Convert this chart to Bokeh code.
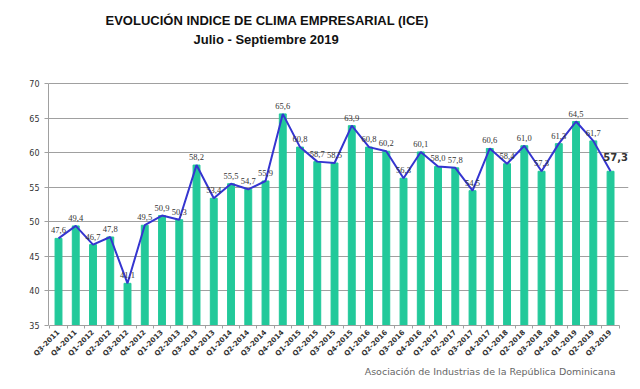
from bokeh.plotting import figure
from bokeh.models import ColumnDataSource, Range1d, FixedTicker, Title, LabelSet, Label
from bokeh.embed import file_html
from bokeh.resources import INLINE
import math

quarters = ["Q3-2011", "Q4-2011", "Q1-2012", "Q2-2012", "Q3-2012", "Q4-2012",
            "Q1-2013", "Q2-2013", "Q3-2013", "Q4-2013", "Q1-2014", "Q2-2014",
            "Q3-2014", "Q4-2014", "Q1-2015", "Q2-2015", "Q3-2015", "Q4-2015",
            "Q1-2016", "Q2-2016", "Q3-2016", "Q4-2016", "Q1-2017", "Q2-2017",
            "Q3-2017", "Q4-2017", "Q1-2018", "Q2-2018", "Q3-2018", "Q4-2018",
            "Q1-2019", "Q2-2019", "Q3-2019"]
ice = [47.6, 49.4, 46.7, 47.8, 41.1, 49.5, 50.9, 50.3, 58.2, 53.4, 55.5, 54.7,
       55.9, 65.6, 60.8, 58.7, 58.5, 63.9, 60.8, 60.2, 56.3, 60.1, 58.0, 57.8,
       54.5, 60.6, 58.4, 61.0, 57.3, 61.3, 64.5, 61.7, 57.3]
y_ticks = [35, 40, 45, 50, 55, 60, 65, 70]

xs = list(range(len(quarters)))
x_bounds = [i - 0.5 for i in range(len(quarters) + 1)]
labels = [f"{v:.1f}".replace(".", ",") for v in ice]
src = ColumnDataSource(dict(x=xs[:-1], y=ice[:-1], lab=labels[:-1]))
allsrc = ColumnDataSource(dict(x=xs, y=ice))

p = figure(width=640, height=389, output_backend="svg", toolbar_location=None,
           x_range=Range1d(-0.58, 33.04), y_range=Range1d(35, 75.06),
           min_border_left=48, min_border_right=12, min_border_bottom=64, min_border_top=48)
p.outline_line_color = None
p.background_fill_color = "white"

p.vbar(x="x", top="y", bottom=35, width=0.4, source=allsrc, color="#22C99A")
p.line(x="x", y="y", source=allsrc, line_color="#3535D0", line_width=2)

p.add_layout(LabelSet(x="x", y="y", text="lab", source=src, text_align="center",
                      text_baseline="bottom", y_offset=5, text_font="DejaVu Sans",
                      text_font_size="8.5px", text_color="#333333"))
p.add_layout(Label(x=xs[-1], y=ice[-1], text=labels[-1], text_align="center",
                   text_baseline="bottom", x_offset=5, y_offset=10, text_font="DejaVu Sans",
                   text_font_size="10px", text_font_style="bold", text_color="#333333"))

p.yaxis.ticker = FixedTicker(ticks=y_ticks)
p.yaxis.bounds = (35, 70)
p.yaxis.axis_line_color = "#a0a0a0"
p.yaxis.major_tick_line_color = "#a0a0a0"
p.yaxis.major_tick_out = 4
p.yaxis.major_tick_in = 0
p.yaxis.minor_tick_line_color = None
p.yaxis.major_label_text_font = "DejaVu Sans"
p.yaxis.major_label_text_font_size = "8px"
p.yaxis.major_label_text_color = "#333333"

p.xaxis.ticker = FixedTicker(ticks=xs, minor_ticks=x_bounds)
p.xaxis.bounds = (-0.5, 32.5)
p.xaxis.major_label_overrides = {i: q for i, q in enumerate(quarters)}
p.xaxis.major_label_orientation = math.pi / 4
p.xaxis.major_label_text_font = "DejaVu Sans"
p.xaxis.major_label_text_font_size = "7px"
p.xaxis.major_label_text_font_style = "bold"
p.xaxis.major_label_text_color = "#333333"
p.xaxis.major_label_standoff = 3
p.xaxis.axis_line_color = "#a0a0a0"
p.xaxis.major_tick_line_color = None
p.xaxis.major_tick_out = 3
p.xaxis.major_tick_in = 0
p.xaxis.minor_tick_line_color = "#a0a0a0"
p.xaxis.minor_tick_out = 3
p.xaxis.minor_tick_in = 0

p.xgrid.grid_line_color = None
p.ygrid.ticker = FixedTicker(ticks=y_ticks)
p.ygrid.grid_line_color = "#a0a0a0"

p.add_layout(Title(text="Julio - Septiembre 2019", align="left", offset=145, standoff=3,
                   text_font="Liberation Sans", text_font_size="13px",
                   text_font_style="bold", text_color="#111111"), "above")
p.add_layout(Title(text="EVOLUCIÓN INDICE DE CLIMA EMPRESARIAL (ICE)", align="left", offset=57,
                   standoff=2, text_font="Liberation Sans", text_font_size="13px",
                   text_font_style="bold", text_color="#111111"), "above")
p.add_layout(Title(text="Asociación de Industrias de la República Dominicana", align="right",
                   offset=13, standoff=0, text_font="DejaVu Sans", text_font_size="9.5px",
                   text_font_style="normal", text_color="#666666"), "below")

open("out.html", "w").write(file_html(p, INLINE))
